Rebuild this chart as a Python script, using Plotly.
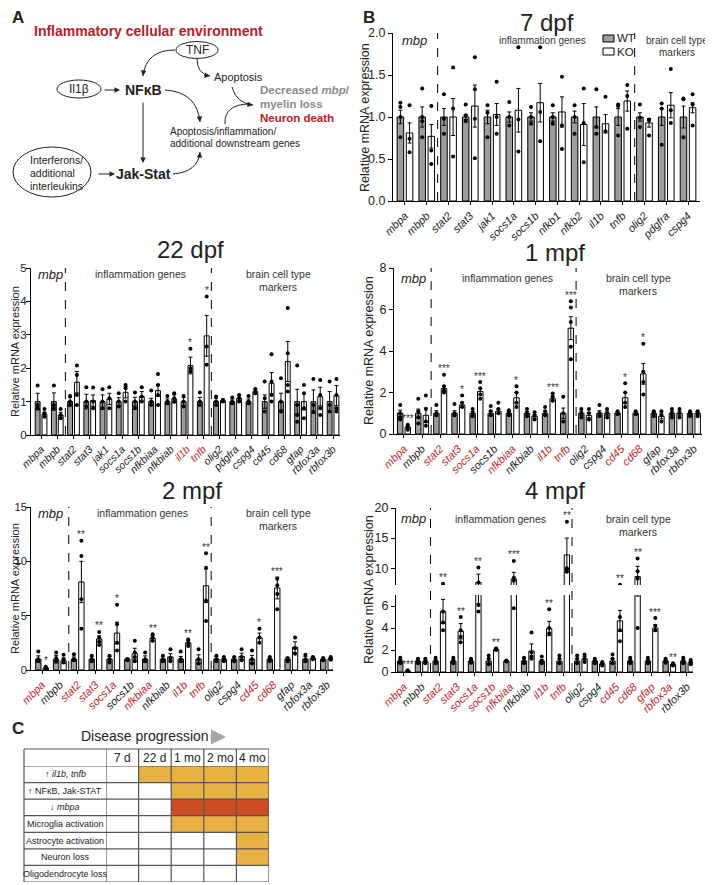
import plotly.graph_objects as go

# The page body keeps its default 8px margin, so the figure is drawn 8px in from the
# window's top-left corner; positions below are given in window pixels and mapped.
OFF = 8
W, H = 713 - OFF, 885 - OFF
FONT = "Liberation Sans, Arial, Helvetica, sans-serif"
RED = "#c1272d"
GRAY_BAR = "#9d9d9d"
TXT = "#222222"

# ------------------------------------------------------------------ DATA
# 7 dpf
genes_7 = ["mbpa", "mbpb", "stat2", "stat3", "jak1", "socs1a", "socs1b", "nfkb1", "nfkb2",
           "il1b", "tnfb", "olig2", "pdgfra", "cspg4"]
red_7 = []
wt_mean_7 = [1.0] * 14
wt_err_7 = [0.08, 0.12, 0.10, 0.03, 0.08, 0.06, 0.05, 0.05, 0.07, 0.12, 0.10, 0.05, 0.10, 0.13]
ko_mean_7 = [0.81, 0.77, 1.00, 1.13, 1.03, 1.08, 1.17, 1.06, 0.91, 0.92, 1.19, 0.93, 1.14, 1.11]
ko_err_7 = [0.12, 0.14, 0.22, 0.25, 0.13, 0.26, 0.23, 0.18, 0.25, 0.11, 0.12, 0.05, 0.15, 0.06]
wt_pts_7 = [[1.17, 1.12, 1.0, 0.76], [1.34, 1.0, 0.95, 0.76], [1.27, 0.98, 0.8], [1.15, 1.02, 0.95],
            [1.14, 1.05, 0.76], [1.18, 1.0, 0.9], [1.12, 1.0, 0.92], [1.14, 1.0, 0.92],
            [1.14, 1.0, 0.8], [1.33, 0.88, 0.8], [1.13, 1.15, 0.78], [1.15, 0.99, 0.88],
            [1.16, 1.1, 0.67], [1.21, 1.22, 0.76]]
ko_pts_7 = [[1.14, 0.74, 0.58], [1.13, 0.6, 0.44], [1.59, 1.1, 0.53], [1.71, 1.33, 0.98, 0.51],
            [1.42, 1.0, 0.8], [1.83, 0.97, 0.59], [1.83, 1.06, 0.71], [1.48, 0.9, 0.62],
            [1.34, 0.93, 0.46], [1.24, 0.83], [1.38, 1.25, 0.86], [0.96, 0.97, 0.78],
            [1.57, 1.08, 0.93], [1.27, 1.15, 0.9]]
stars_7 = [""] * 14

# 22 dpf
genes_22 = ["mbpa", "mbpb", "stat2", "stat3", "jak1", "socs1a", "socs1b", "nfkbiaa", "nfkbiab",
            "il1b", "tnfb", "olig2", "pdgfra", "cspg4", "cd45", "cd68", "gfap", "rbfox3a", "rbfox3b"]
red_22 = ["il1b", "tnfb"]
wt_mean_22 = [1.0] * 19
wt_err_22 = [0.25, 0.26, 0.13, 0.22, 0.20, 0.12, 0.13, 0.10, 0.08, 0.12, 0.13, 0.10, 0.08, 0.08,
             0.20, 0.25, 0.37, 0.35, 0.30]
ko_mean_22 = [0.62, 0.60, 1.58, 1.03, 1.08, 1.28, 1.15, 1.33, 1.08, 2.08, 2.97, 1.03, 1.10, 1.30,
              1.55, 2.20, 1.00, 1.15, 1.18]
ko_err_22 = [0.06, 0.08, 0.32, 0.17, 0.17, 0.17, 0.15, 0.17, 0.12, 0.25, 0.61, 0.05, 0.08, 0.08,
             0.32, 0.60, 0.25, 0.28, 0.30]
wt_pts_22 = [[1.48, 0.9, 0.8], [1.48, 0.9, 0.8], [1.17, 1.0, 0.9], [1.43, 1.0, 0.85], [1.37, 1.0, 0.8],
             [1.25, 1.0, 0.85], [1.27, 1.0, 0.8], [1.33, 1.0, 0.9], [1.17, 1.0, 0.95], [1.17, 1.0, 0.85],
             [1.27, 1.0, 0.9], [1.15, 1.0, 0.9], [1.12, 1.0, 0.95], [1.17, 1.0, 0.95], [1.6, 1.1, 0.7],
             [1.7, 1.0, 0.7], [2.08, 0.9, 0.6, 0.4], [1.68, 0.9, 0.7], [1.6, 0.9, 0.7]]
ko_pts_22 = [[0.78, 0.65, 0.55], [0.78, 0.6, 0.5], [2.08, 1.8, 1.2, 0.9], [1.42, 1.0, 0.8],
             [1.43, 1.1, 0.8], [1.5, 1.4, 1.0], [1.43, 1.15, 1.0], [1.83, 1.5, 1.2, 0.9],
             [1.25, 1.1, 1.0], [2.58, 2.0, 1.9], [4.15, 2.65, 2.1], [1.05, 1.0], [1.2, 1.1, 1.0],
             [1.38, 1.3, 1.25], [2.42, 1.6, 1.2, 1.0], [3.8, 2.45, 1.5, 1.3], [1.5, 1.25, 0.8, 0.5],
             [1.65, 1.2, 0.8, 0.6], [1.68, 1.2, 0.8, 0.7]]
stars_22 = [""] * 9 + ["*", "*"] + [""] * 8

# 1, 2, 4 mpf share the gene list
genes_m = ["mbpa", "mbpb", "stat2", "stat3", "socs1a", "socs1b", "nfkbiaa", "nfkbiab", "il1b",
           "tnfb", "olig2", "cspg4", "cd45", "cd68", "gfap", "rbfox3a", "rbfox3b"]

# 1 mpf
red_1 = ["mbpa", "stat2", "stat3", "socs1a", "nfkbiaa", "il1b", "tnfb", "cd45", "cd68"]
wt_mean_1 = [1.0] * 17
wt_err_1 = [0.15, 0.2, 0.12, 0.12, 0.08, 0.12, 0.08, 0.08, 0.1, 0.25, 0.1, 0.12, 0.05, 0.05, 0.08, 0.1, 0.08]
ko_mean_1 = [0.33, 0.90, 2.20, 1.40, 2.05, 1.10, 1.75, 0.85, 1.70, 5.10, 0.90, 1.00, 1.75, 2.90, 0.85, 1.00, 1.00]
ko_err_1 = [0.08, 0.35, 0.12, 0.12, 0.15, 0.1, 0.25, 0.08, 0.1, 0.55, 0.12, 0.1, 0.25, 0.5, 0.12, 0.1, 0.08]
wt_pts_1 = [[1.4, 1.0, 0.8, 0.7], [1.7, 1.1, 0.8, 0.5], [1.4, 1.0, 0.9], [1.45, 1.0, 0.9], [1.2, 1.0, 0.85],
            [1.35, 1.1, 0.9], [1.15, 1.0, 0.9], [1.2, 1.0, 0.85], [1.3, 1.1, 0.9], [1.8, 1.0, 0.6],
            [1.2, 1.0, 0.8], [1.4, 1.0, 0.85], [1.1, 1.0, 0.95], [1.1, 1.0, 0.95], [1.1, 1.0, 0.85],
            [1.2, 1.0, 0.8], [1.1, 1.0, 0.85]]
ko_pts_1 = [[0.45, 0.35, 0.2], [1.85, 1.2, 0.6, 0.4], [2.85, 2.3, 2.1, 2.0], [1.85, 1.5, 1.3],
            [2.5, 2.2, 1.9, 1.7], [1.5, 1.2, 1.0], [2.3, 2.0, 1.5, 1.3], [1.05, 0.9, 0.7],
            [1.95, 1.8, 1.6], [6.4, 6.1, 5.4, 4.2, 3.6], [1.2, 1.0, 0.7], [1.2, 1.0, 0.8],
            [2.45, 2.0, 1.5, 1.3], [4.35, 3.0, 2.5, 1.9], [1.1, 0.9, 0.6], [1.2, 1.0, 0.8], [1.1, 1.0, 0.85]]
stars_1 = ["***", "", "***", "*", "***", "", "*", "", "***", "***", "", "", "*", "*", "", "", ""]

# 2 mpf
red_2 = ["mbpa", "stat2", "stat3", "socs1a", "nfkbiaa", "il1b", "tnfb", "cd45", "cd68"]
wt_mean_2 = [1.0] * 17
wt_err_2 = [0.3, 0.35, 0.2, 0.25, 0.25, 0.1, 0.3, 0.25, 0.25, 0.4, 0.25, 0.15, 0.35, 0.2, 0.15, 0.25, 0.15]
ko_mean_2 = [0.2, 0.85, 8.1, 2.85, 3.4, 1.5, 2.9, 1.2, 2.5, 7.75, 1.0, 1.25, 2.95, 7.55, 2.1, 1.1, 1.05]
ko_err_2 = [0.08, 0.25, 1.9, 0.3, 1.0, 0.5, 0.25, 0.3, 0.2, 1.55, 0.2, 0.3, 0.45, 1.0, 0.5, 0.1, 0.1]
wt_pts_2 = [[1.7, 1.0, 0.8], [1.6, 1.1, 0.8], [1.45, 1.0, 0.9], [1.3, 1.0, 0.8], [1.3, 1.0, 0.7],
            [1.0, 0.95, 0.9], [1.6, 1.0, 0.8], [1.3, 1.0, 0.8], [1.7, 1.0, 0.8], [1.9, 1.0, 0.6],
            [1.3, 1.0, 0.8], [1.2, 0.9, 0.8], [1.8, 1.0, 0.6], [1.2, 1.0, 0.8], [1.1, 1.0, 0.8],
            [1.4, 1.0, 0.8], [1.1, 1.0, 0.9]]
ko_pts_2 = [[0.3, 0.15, 0.1], [1.4, 1.0, 0.7], [11.9, 10.5, 6.5, 3.8], [3.5, 3.0, 2.6, 2.3],
            [6.0, 4.2, 2.5, 1.8], [2.7, 1.6, 1.2, 0.8], [3.3, 3.0, 2.7], [1.9, 1.1, 0.8],
            [2.8, 2.5, 2.2], [10.75, 9.4, 6.4, 4.5], [1.2, 1.0, 0.8], [1.9, 1.2, 0.9],
            [3.8, 3.0, 2.5], [8.4, 7.8, 7.0, 5.6], [3.0, 2.0, 1.5], [1.2, 1.1, 1.0], [1.2, 1.05, 0.95]]
stars_2 = ["*", "", "**", "**", "*", "", "**", "", "**", "**", "", "", "*", "***", "", "", ""]

# 4 mpf
red_4 = ["mbpa", "stat2", "stat3", "socs1a", "socs1b", "nfkbiaa", "il1b", "tnfb", "cd45", "cd68",
         "gfap", "rbfox3a"]
wt_mean_4 = [1.0] * 17
wt_err_4 = [0.15, 0.1, 0.12, 0.12, 0.1, 0.2, 0.05, 0.2, 0.15, 0.2, 0.2, 0.1, 0.2, 0.15, 0.12, 0.1, 0.15]
ko_mean_4 = [0.1, 0.95, 5.5, 3.7, 7.6, 2.05, 8.2, 1.9, 3.95, 12.2, 1.2, 0.75, 4.65, 8.6, 4.0, 0.7, 0.85]
ko_err_4 = [0.03, 0.12, 1.1, 0.7, 1.4, 0.05, 1.1, 0.65, 0.65, 2.8, 0.2, 0.08, 0.95, 1.7, 0.3, 0.08, 0.12]
wt_pts_4 = [[1.3, 1.0, 0.8], [1.2, 1.0, 0.8], [1.3, 1.0, 0.8], [1.3, 1.0, 0.8], [1.2, 1.0, 0.85],
            [1.5, 1.2, 0.7], [1.05, 1.0, 0.95], [1.3, 1.0, 0.8], [1.4, 1.0, 0.8], [1.5, 1.2, 0.8],
            [1.5, 1.2, 0.8], [1.2, 1.0, 0.8], [1.6, 1.2, 0.8], [1.3, 1.0, 0.8], [1.3, 1.0, 0.8],
            [1.2, 1.0, 0.85], [1.3, 1.0, 0.8]]
ko_pts_4 = [[0.15, 0.1, 0.05], [1.2, 1.0, 0.8], [7.4, 5.5, 4.5, 3.8], [5.0, 3.8, 3.2, 2.7],
            [10.1, 7.6, 6.1, 5.5], [2.15, 2.05, 2.0], [11.2, 8.4, 7.9, 5.8], [3.6, 1.8, 1.4, 1.2],
            [5.7, 4.0, 3.5], [17.7, 10.0, 9.8, 9.4], [1.6, 1.2, 0.9], [0.9, 0.75, 0.6],
            [7.25, 5.0, 3.8, 2.8], [11.6, 9.5, 8.3, 4.0], [4.9, 4.2, 3.8], [0.8, 0.7, 0.6], [1.1, 0.9, 0.7]]
stars_4 = ["***", "", "**", "**", "**", "**", "***", "", "**", "**", "", "", "**", "**", "***", "**", ""]

# Panel C table
table_rows = ["↑ <i>il1b, tnfb</i>", "↑ NFκB, Jak-STAT", "↓ <i>mbpa</i>", "Microglia activation",
              "Astrocyte activation", "Neuron loss", "Oligodendrocyte loss"]
stages = ["7 d", "22 d", "1 mo", "2 mo", "4 mo"]
status = [[0, 1, 1, 1, 1], [0, 0, 1, 1, 1], [0, 0, 2, 2, 2], [0, 0, 1, 1, 1],
          [0, 0, 0, 0, 1], [0, 0, 0, 0, 1], [0, 0, 0, 0, 0]]
status_scale = [[0, "white"], [0.333, "white"], [0.333, "#e8b143"], [0.667, "#e8b143"],
                [0.667, "#cc4b24"], [1, "#cc4b24"]]


# ------------------------------------------------------------------ helpers
def px(x):
    return (x - OFF) / W


def py(y):
    return 1 - (y - OFF) / H


def axkey(k, kind):
    return f"{kind}axis" + ("" if k == 1 else str(k))


def axref(k, kind):
    return kind + ("" if k == 1 else str(k))


fig = go.Figure()
layout = {}
annotations = []
shapes = []


def text(x, y, s, size=11, color=TXT, xanchor="center", bold=False, angle=0, yanchor="middle",
         family=FONT, pad=1):
    if bold:
        s = f"<b>{s}</b>"
    annotations.append(dict(x=px(x), y=py(y), xref="paper", yref="paper", text=s, showarrow=False,
                            font=dict(size=size, color=color, family=family), xanchor=xanchor,
                            yanchor=yanchor, textangle=angle, borderpad=pad))


def build(xi, segs, genes, red, wm, we, km, ke, wp, kp, stars, xpx, xr, divs, ytitle_x, gfont=11,
          tsize=12.5, yfont=12.5, ystand=0):
    n = len(genes)
    idx = list(range(n))
    tt = [f"<i><span style='color:{RED}'>{g}</span></i>" if g in red else f"<i>{g}</i>" for g in genes]
    layout[axkey(xi, "x")] = dict(
        domain=[px(xpx[0]), px(xpx[1])], range=list(xr), anchor=axref(segs[0]["yi"], "y"),
        tickmode="array", tickvals=idx, ticktext=tt, tickangle=-45, automargin=False,
        tickfont=dict(size=gfont, color=TXT, family=FONT), showline=True, linecolor="black",
        linewidth=1, ticks="outside", ticklen=3, tickcolor="black", showgrid=False, zeroline=False,
        fixedrange=True)
    for j, s in enumerate(segs):
        yi = s["yi"]
        layout[axkey(yi, "y")] = dict(
            domain=[py(s["ybot"]), py(s["ytop"])], range=list(s["yr"]), anchor=axref(xi, "x"),
            tickmode="array", tickvals=s["ticks"], tickformat=s.get("fmt", ""), automargin=False,
            tickfont=dict(size=yfont, color=TXT, family=FONT), showline=True, linecolor="black",
            linewidth=1, ticks="outside", ticklen=4, tickcolor="black", showgrid=False,
            zeroline=False, fixedrange=True, ticklabelstandoff=ystand)
        xa, ya = axref(xi, "x"), axref(yi, "y")
        fig.add_trace(go.Bar(x=[i - 0.21 for i in idx], y=wm, width=0.3, xaxis=xa, yaxis=ya,
                             marker=dict(color=GRAY_BAR, line=dict(color="black", width=1)),
                             error_y=dict(type="data", array=we, color="black", thickness=1, width=2),
                             showlegend=False, hoverinfo="skip"))
        fig.add_trace(go.Bar(x=[i + 0.21 for i in idx], y=km, width=0.3, xaxis=xa, yaxis=ya,
                             marker=dict(color="white", line=dict(color="black", width=1)),
                             error_y=dict(type="data", array=ke, color="black", thickness=1, width=2),
                             showlegend=False, hoverinfo="skip"))
        xs, ys = [], []
        for i, pts in enumerate(wp):
            xs += [i - 0.21] * len(pts)
            ys += pts
        for i, pts in enumerate(kp):
            xs += [i + 0.21] * len(pts)
            ys += pts
        fig.add_trace(go.Scatter(x=xs, y=ys, mode="markers", xaxis=xa, yaxis=ya,
                                 marker=dict(size=4, color="black"), showlegend=False, hoverinfo="skip"))
    # significance stars, placed on the segment that contains them
    for i, s_ in enumerate(stars):
        if not s_:
            continue
        top = max(max(kp[i]), km[i] + ke[i])
        for s in segs:
            upp = (s["yr"][1] - s["yr"][0]) / (s["ybot"] - s["ytop"])
            yv = top + 6 * upp
            if s["yr"][0] <= yv <= s["yr"][1]:
                annotations.append(dict(x=i + 0.21, y=yv, xref=axref(xi, "x"), yref=axref(s["yi"], "y"),
                                        text=s_, showarrow=False, xanchor="center", yanchor="middle",
                                        font=dict(size=10, color="#333333", family=FONT)))
                break
    ybot = max(s["ybot"] for s in segs)
    ytop = min(s["ytop"] for s in segs)
    for d in divs:
        shapes.append(dict(type="line", xref=axref(xi, "x"), yref="paper", x0=d, x1=d,
                           y0=py(ybot), y1=py(ytop), line=dict(color="black", width=1, dash="dash")))
    text(ytitle_x, (ybot + ytop) / 2, "Relative mRNA expression", size=tsize, angle=-90, pad=0)


# ------------------------------------------------------------------ panel B charts
build(1, [dict(yi=1, ybot=201, ytop=33, yr=(0, 2), ticks=[0, 0.5, 1, 1.5, 2], fmt=".1f")],
      genes_7, red_7, wt_mean_7, wt_err_7, ko_mean_7, ko_err_7, wt_pts_7, ko_pts_7, stars_7,
      (393, 700), (-0.55, 13.55), [1.5, 10.55], 365)
build(2, [dict(yi=2, ybot=435, ytop=268, yr=(0, 5), ticks=[0, 1, 2, 3, 4, 5])],
      genes_22, red_22, wt_mean_22, wt_err_22, ko_mean_22, ko_err_22, wt_pts_22, ko_pts_22, stars_22,
      (31, 340), (-0.62, 18.43), [1.5, 10.5], 14.5, gfont=10.5, tsize=11, yfont=11.5, ystand=-3)
build(3, [dict(yi=3, ybot=434, ytop=268, yr=(0, 8), ticks=[0, 2, 4, 6, 8])],
      genes_m, red_1, wt_mean_1, wt_err_1, ko_mean_1, ko_err_1, wt_pts_1, ko_pts_1, stars_1,
      (394, 702), (-0.55, 16.45), [1.5, 9.5], 369)
build(4, [dict(yi=4, ybot=670, ytop=507, yr=(0, 15), ticks=[0, 5, 10, 15])],
      genes_m, red_2, wt_mean_2, wt_err_2, ko_mean_2, ko_err_2, wt_pts_2, ko_pts_2, stars_2,
      (31, 333), (-0.62, 16.34), [1.5, 9.5], 14.5, tsize=11, yfont=11, ystand=-3)
build(5, [dict(yi=5, ybot=672, ytop=595, yr=(0, 7), ticks=[0, 2, 4, 6]),
          dict(yi=6, ybot=585, ytop=508, yr=(7.2, 20), ticks=[10, 15, 20])],
      genes_m, red_4, wt_mean_4, wt_err_4, ko_mean_4, ko_err_4, wt_pts_4, ko_pts_4, stars_4,
      (396, 693), (-0.45, 16.34), [1.5, 9.5], 369)

# chart titles
for (x, y, t) in [(547, 22, "7 dpf"), (190, 250, "22 dpf"), (555, 252, "1 mpf"),
                  (192, 490, "2 mpf"), (555, 490, "4 mpf")]:
    text(x, y, t, size=24)

# group labels
for (xm, xi_, xb, y1, fs) in [(415, 542, 677, 40, 10), (50, 140, 278, 274, 10.5), (413, 507, 638, 278, 10.5),
                              (50, 142, 278, 513, 10.5), (413, 500, 638, 519, 10.5)]:
    text(xm, y1, "<i>mbp</i>", size=13)
    text(xi_, y1, "inflammation genes", size=fs, color="#333")
    text(xb, y1, "brain cell type", size=fs, color="#333")
    text(xb, y1 + 13, "markers", size=fs, color="#333")

# manual legend (7 dpf)
shapes.append(dict(type="rect", xref="paper", yref="paper", x0=px(603), x1=px(614), y0=py(42), y1=py(35),
                   fillcolor=GRAY_BAR, line=dict(color="black", width=1)))
shapes.append(dict(type="rect", xref="paper", yref="paper", x0=px(603), x1=px(614), y0=py(55), y1=py(48),
                   fillcolor="white", line=dict(color="black", width=1)))
text(616, 38.5, "WT", size=11.5, xanchor="left", pad=0)
text(616, 52, "KO", size=11.5, xanchor="left", pad=0)

# ------------------------------------------------------------------ panel A diagram
text(11, 17, "A", size=17, bold=True, xanchor="left", pad=0)
text(362, 17, "B", size=17, bold=True, xanchor="left", pad=0)
text(32, 31, "Inflammatory cellular environment", size=14, bold=True, color="#b5202a", xanchor="left")


def ellipse(cx, cy, w, h):
    shapes.append(dict(type="circle", xref="paper", yref="paper", x0=px(cx - w / 2), x1=px(cx + w / 2),
                       y0=py(cy + h / 2), y1=py(cy - h / 2), line=dict(color="#222", width=1)))


ellipse(197, 50, 42, 17)
ellipse(79, 89, 44, 18)
ellipse(52, 172, 78, 50)
text(197, 50, "TNF", size=12)
text(79, 89, "Il1β", size=12)
text(143, 90, "NFκB", size=14, bold=True)
text(143, 174, "Jak-Stat", size=14, bold=True)
text(212, 77, "Apoptosis", size=11, xanchor="left")
text(258, 90, "Decreased <i>mbp</i>/", size=11.5, bold=True, color="#8a8a8a", xanchor="left")
text(258, 104, "myelin loss", size=11.5, bold=True, color="#8a8a8a", xanchor="left")
text(258, 118, "Neuron death", size=11.5, bold=True, color="#b5202a", xanchor="left")
text(168, 131, "Apoptosis/inflammation/", size=10, xanchor="left")
text(168, 144, "additional downstream genes", size=10, xanchor="left")
text(28, 160, "Interferons/", size=10.5, xanchor="left")
text(28, 173, "additional", size=10.5, xanchor="left")
text(28, 186, "interleukins", size=10.5, xanchor="left")


def arrowhead(x, y, dx, dy):
    L = (dx * dx + dy * dy) ** 0.5
    annotations.append(dict(x=px(x), y=py(y), xref="paper", yref="paper", ax=-dx / L * 7, ay=-dy / L * 7,
                            axref="pixel", ayref="pixel", text="", showarrow=True, arrowhead=2,
                            arrowsize=1.1, arrowwidth=1, arrowcolor="#222", standoff=0))


def curve(p0, c, p1, head=True):
    path = f"M {px(p0[0])},{py(p0[1])} Q {px(c[0])},{py(c[1])} {px(p1[0])},{py(p1[1])}"
    shapes.append(dict(type="path", xref="paper", yref="paper", path=path, line=dict(color="#222", width=1)))
    if head:
        arrowhead(p1[0], p1[1], p1[0] - c[0], p1[1] - c[1])


def straight(p0, p1):
    annotations.append(dict(x=px(p1[0]), y=py(p1[1]), xref="paper", yref="paper",
                            ax=p0[0] - p1[0], ay=p0[1] - p1[1], axref="pixel", ayref="pixel",
                            text="", showarrow=True, arrowhead=2, arrowsize=1.1, arrowwidth=1,
                            arrowcolor="#222", standoff=0))


curve((175, 50), (146, 50), (143, 76))
curve((197, 59), (197, 74), (210, 76))
curve((165, 90), (197, 92), (200, 122))
curve((173, 174), (198, 172), (200, 152))
curve((232, 87), (236, 103), (253, 105))
curve((225, 124), (224, 104), (250, 104), head=False)
straight((103, 90), (120, 90))
straight((143, 101), (143, 163))
straight((97, 174), (115, 174))

# ------------------------------------------------------------------ panel C
text(10, 728, "C", size=17, bold=True, xanchor="left")
text(145, 736, "Disease progression", size=14, color="#222")
annotations.append(dict(x=px(226), y=py(737), xref="paper", yref="paper", ax=-17, ay=0,
                        axref="pixel", ayref="pixel", text="", showarrow=True, arrowhead=2,
                        arrowsize=0.6, arrowwidth=5, arrowcolor="#a6a6a6", standoff=0))

TL, TR, TTOP, THEAD, TBOT, TC1 = 24, 269, 749, 766, 882, 106
nrow = len(table_rows)
layout["xaxis7"] = dict(domain=[px(TC1), px(TR)], range=[-0.5, len(stages) - 0.5], anchor="y7",
                        visible=False, fixedrange=True, automargin=False)
layout["yaxis7"] = dict(domain=[py(TBOT), py(THEAD)], range=[nrow - 0.5, -0.5], anchor="x7",
                        visible=False, fixedrange=True, automargin=False)
fig.add_trace(go.Heatmap(x=list(range(len(stages))), y=list(range(nrow)), z=status, zmin=0, zmax=2,
                         colorscale=status_scale, showscale=False, xaxis="x7", yaxis="y7",
                         hoverinfo="skip"))
LINE = dict(color="#555555", width=1.2)
for c in range(len(stages) + 1):
    shapes.append(dict(type="line", xref="x7", yref="paper", x0=c - 0.5, x1=c - 0.5,
                       y0=py(TBOT), y1=py(TTOP), line=LINE))
shapes.append(dict(type="line", xref="paper", yref="paper", x0=px(TL), x1=px(TL), y0=py(TBOT), y1=py(TTOP),
                   line=LINE))
for r in range(nrow + 1):
    shapes.append(dict(type="line", xref="paper", yref="y7", x0=px(TL), x1=px(TR), y0=r - 0.5, y1=r - 0.5,
                       line=LINE))
shapes.append(dict(type="line", xref="paper", yref="paper", x0=px(TL), x1=px(TR), y0=py(TTOP), y1=py(TTOP),
                   line=LINE))
for c, st in enumerate(stages):
    annotations.append(dict(x=c, y=py((TTOP + THEAD) / 2), xref="x7", yref="paper", text=st,
                            showarrow=False, xanchor="center", yanchor="middle",
                            font=dict(size=12, color="#222", family=FONT)))
for r, lab in enumerate(table_rows):
    annotations.append(dict(x=px((TL + TC1) / 2), y=r, xref="paper", yref="y7", text=lab,
                            showarrow=False, xanchor="center", yanchor="middle",
                            font=dict(size=9, color="#222", family=FONT)))

layout.update(dict(
    template="none",
    width=W, height=H, margin=dict(l=0, r=0, t=0, b=0, pad=0), paper_bgcolor="white",
    plot_bgcolor="white", barmode="overlay", showlegend=False, font=dict(family=FONT, color=TXT),
    annotations=annotations, shapes=shapes,
))
fig.update_layout(**layout)
fig.write_html("out.html")
